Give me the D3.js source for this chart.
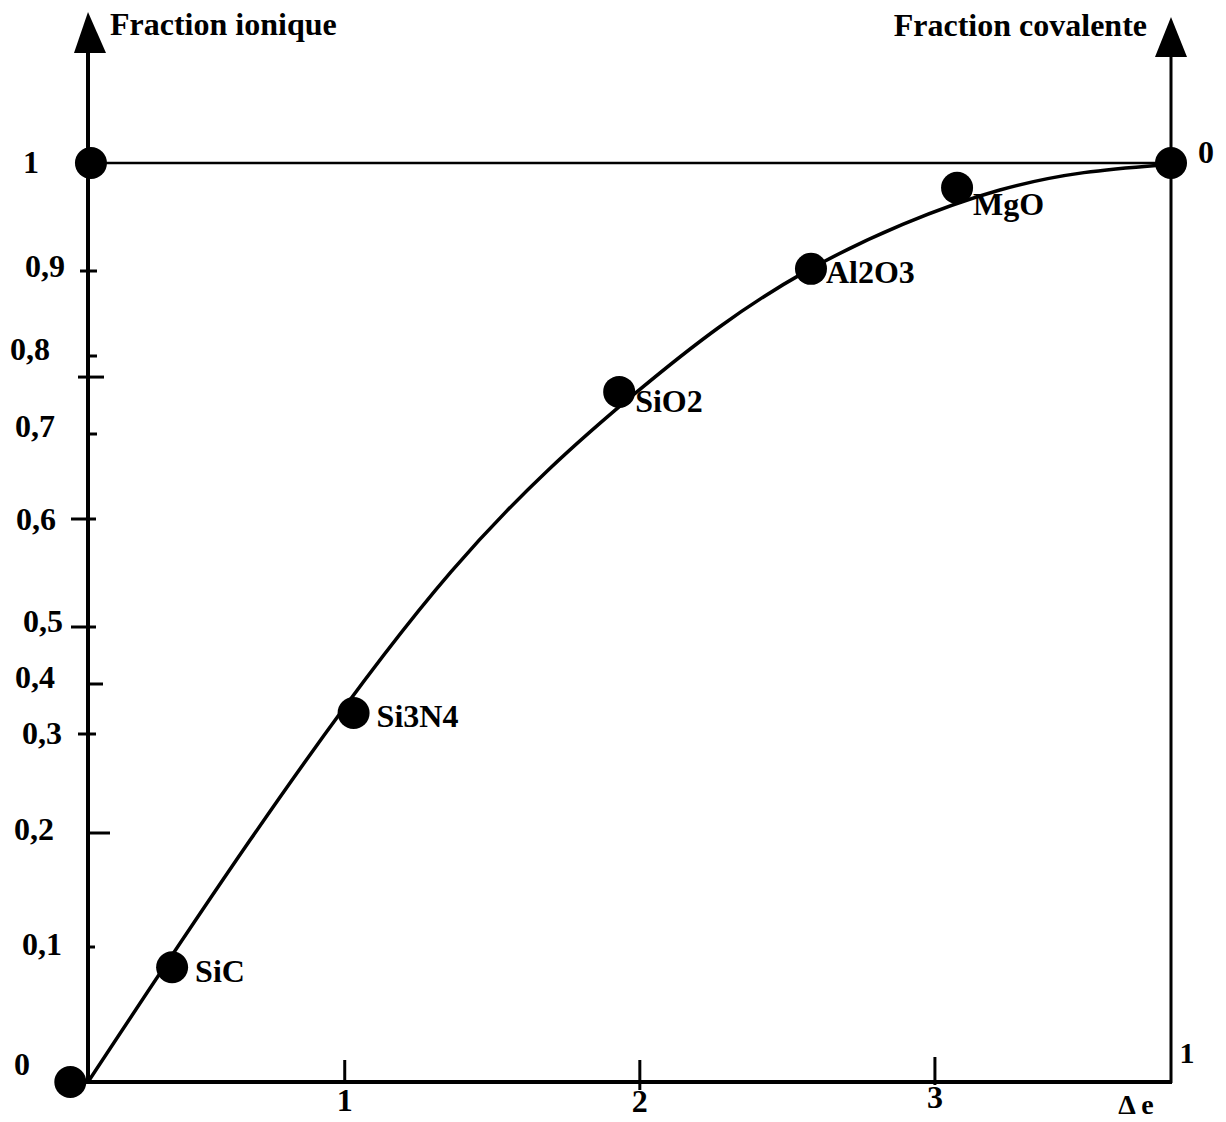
<!DOCTYPE html>
<html>
<head>
<meta charset="utf-8">
<script src="https://cdn.jsdelivr.net/npm/d3@7"></script>
<style>
  body { margin: 0; background: #fff; }
  svg text { font-family: "Liberation Serif", "Times New Roman", serif; font-weight: bold; fill: #000; }
</style>
</head>
<body>
<svg></svg>
<script>
const width = 1226;
const height = 1122;

// points mesurés (delta e, fraction ionique)
const materials = ["", "", "SiC", "Si3N4", "SiO2", "Al2O3", "MgO", ""];
const pointDe   = [0.07, 0.14, 0.415, 1.03, 1.93, 2.58, 3.075, 3.80];
const pointFrac = [0, 1, 0.085, 0.342, 0.754, 0.902, 0.977, 1];

// courbe tracée
const curveDe   = [0.13, 0.68, 1.36, 1.99, 2.56, 3.22, 3.76];
const curveFrac = [0, 0.194, 0.551, 0.754, 0.899, 0.975, 0.998];

// graduations
const yTicks = [0, 0.1, 0.2, 0.3, 0.4, 0.5, 0.6, 0.7, 0.8, 0.9, 1];
const yExtraTick = 0.773;
const xTicks = [1, 2, 3];
const deDomain = [0.13, 3.80];

const svg = d3.select("svg")
  .attr("width", width)
  .attr("height", height);

// Echelles (axe vertical non uniforme, comme sur le dessin)
const x = d3.scaleLinear().domain(deDomain).range([88, 1171]);
const y = d3.scaleLinear()
  .domain(yTicks)
  .range([1082, 947, 833, 734, 684, 627, 519, 434, 356, 271, 163]);

const x0 = x.range()[0], x1 = x.range()[1];
const yBottom = y(0), yTop = y(1);

// petits défauts du dessin à la main : [gauche, droite] des tirets, position des libellés
const yTickLen = {0.1: [0, 7], 0.2: [0, 22], 0.3: [-10, 8], 0.4: [0, 15], 0.5: [-17, 8],
  0.6: [-17, 8], 0.7: [0, 9], 0.8: [0, 9], 0.9: [-8, 9]};
const yLabelPos = {0: [22, -7], 0.1: [42, 8], 0.2: [34, 7], 0.3: [42, 10], 0.4: [35, 4],
  0.5: [43, 5], 0.6: [36, 11], 0.7: [35, 3], 0.8: [30, 4], 0.9: [45, 6], 1: [31, 10]};
const xTickLen = {1: [-22, 0], 2: [-22, 8], 3: [-25, 3]};
const xLabelDy = {1: 29, 2: 30, 3: 26};
const labelOffset = {SiC: [23, 15], Si3N4: [23, 14], SiO2: [16, 20], Al2O3: [15, 14], MgO: [16, 27]};

const ink = "#000";

// axes
svg.append("line")
  .attr("x1", x0).attr("x2", x0)
  .attr("y1", 50).attr("y2", yBottom + 2)
  .attr("stroke", ink).attr("stroke-width", 4);

svg.append("line")
  .attr("x1", x1).attr("x2", x1)
  .attr("y1", 55).attr("y2", yBottom + 1)
  .attr("stroke", ink).attr("stroke-width", 3);

svg.append("line")
  .attr("x1", x0 - 2).attr("x2", x1 + 1)
  .attr("y1", yBottom).attr("y2", yBottom)
  .attr("stroke", ink).attr("stroke-width", 4);

svg.append("line")
  .attr("x1", x0).attr("x2", x1)
  .attr("y1", yTop).attr("y2", yTop)
  .attr("stroke", ink).attr("stroke-width", 2.5);

// flèches
svg.append("path")
  .attr("d", `M${x0},12 L${x0 - 14},53 L${x0 + 18},53 Z`)
  .attr("fill", ink);
svg.append("path")
  .attr("d", `M${x1},17 L${x1 - 16},57 L${x1 + 16},57 Z`)
  .attr("fill", ink);

// graduations verticales
const fmt = d => (d === 0 || d === 1) ? String(d) : String(d).replace(".", ",");

svg.append("g").selectAll("line")
  .data(yTicks.filter(d => yTickLen[d]))
  .join("line")
  .attr("x1", d => x0 + yTickLen[d][0])
  .attr("x2", d => x0 + yTickLen[d][1])
  .attr("y1", d => y(d)).attr("y2", d => y(d))
  .attr("stroke", ink).attr("stroke-width", 3);

svg.append("line")
  .attr("x1", x0 - 10).attr("x2", x0 + 16)
  .attr("y1", y(yExtraTick)).attr("y2", y(yExtraTick))
  .attr("stroke", ink).attr("stroke-width", 3);

svg.append("g").selectAll("text")
  .data(yTicks)
  .join("text")
  .attr("x", d => yLabelPos[d][0])
  .attr("y", d => y(d) + yLabelPos[d][1])
  .attr("text-anchor", "middle")
  .attr("font-size", 32)
  .text(fmt);

// graduations horizontales
svg.append("g").selectAll("line")
  .data(xTicks)
  .join("line")
  .attr("x1", d => x(d)).attr("x2", d => x(d))
  .attr("y1", d => yBottom + xTickLen[d][0])
  .attr("y2", d => yBottom + xTickLen[d][1])
  .attr("stroke", ink).attr("stroke-width", 3);

svg.append("g").selectAll("text")
  .data(xTicks)
  .join("text")
  .attr("x", d => x(d))
  .attr("y", d => yBottom + xLabelDy[d])
  .attr("text-anchor", "middle")
  .attr("font-size", 32)
  .text(d => d);

// libellés d'axes
svg.append("text")
  .attr("x", 110).attr("y", 35)
  .attr("font-size", 32)
  .text("Fraction ionique");

svg.append("text")
  .attr("x", 1147).attr("y", 36)
  .attr("text-anchor", "end")
  .attr("font-size", 32)
  .text("Fraction covalente");

svg.append("text")
  .attr("x", 1206).attr("y", yTop)
  .attr("text-anchor", "middle")
  .attr("font-size", 32)
  .text("0");

svg.append("text")
  .attr("x", 1187).attr("y", yBottom - 19)
  .attr("text-anchor", "middle")
  .attr("font-size", 30)
  .text("1");

svg.append("text")
  .attr("x", 1136).attr("y", 1114)
  .attr("text-anchor", "middle")
  .attr("font-size", 28)
  .text("\u0394 e");

// courbe
const curvePts = curveDe.map((d, i) => [d, curveFrac[i]]);
const line = d3.line()
  .x(d => x(d[0]))
  .y(d => y(d[1]))
  .curve(d3.curveNatural);

svg.append("path")
  .datum(curvePts)
  .attr("d", line)
  .attr("fill", "none")
  .attr("stroke", ink)
  .attr("stroke-width", 3.5);

// points
const points = materials.map((m, i) => ({ name: m, de: pointDe[i], f: pointFrac[i] }));

svg.append("g").selectAll("circle")
  .data(points)
  .join("circle")
  .attr("cx", d => x(d.de))
  .attr("cy", d => y(d.f))
  .attr("r", 16)
  .attr("fill", ink);

svg.append("g").selectAll("text")
  .data(points.filter(d => d.name))
  .join("text")
  .attr("x", d => x(d.de) + labelOffset[d.name][0])
  .attr("y", d => y(d.f) + labelOffset[d.name][1])
  .attr("font-size", 32)
  .text(d => d.name);
</script>
</body>
</html>
